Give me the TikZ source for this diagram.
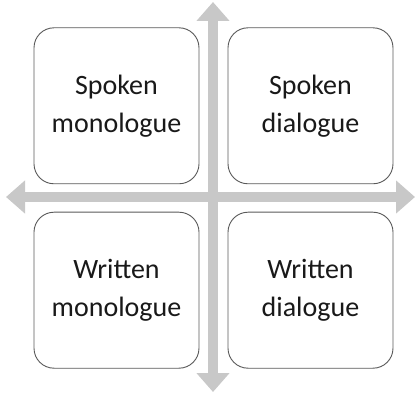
\documentclass[tikz,border=0pt]{standalone}
\usepackage{fontspec}
\setmainfont{Carlito}
\usetikzlibrary{arrows.meta}
\definecolor{axisgray}{RGB}{200,200,200}
\definecolor{boxline}{RGB}{90,90,90}
\tikzset{
  quad/.style={draw=boxline,line width=0.9pt,rounded corners=20pt,fill=white,
    minimum width=165pt,minimum height=156pt,align=center,text=black!90,
    font=\fontsize{28}{38}\selectfont},
  axis/.style={draw=axisgray,line width=9.5pt,
    {Triangle[width=32pt,length=19pt]}-{Triangle[width=32pt,length=19pt]}}
}
\begin{document}
\begin{tikzpicture}[x=1pt,y=1pt]
\useasboundingbox (0,0) rectangle (415,394);
% axes
\coordinate (top) at (213,392);
\coordinate (bottom) at (213,2);
\coordinate (left) at (6,197);
\coordinate (right) at (415,197);
\draw[axis] (bottom)--(top);
\draw[axis] (left)--(right);
% quadrants
\node[quad] (spokenmono) at (116.5,288.2) {Spoken\\monologue};
\node[quad] (spokendia) at (310.5,288.2) {Spoken\\dialogue};
\node[quad] (writtenmono) at (116.5,103.8) {Written\\monologue};
\node[quad] (writtendia) at (310.5,103.8) {Written\\dialogue};
\end{tikzpicture}
\end{document}
